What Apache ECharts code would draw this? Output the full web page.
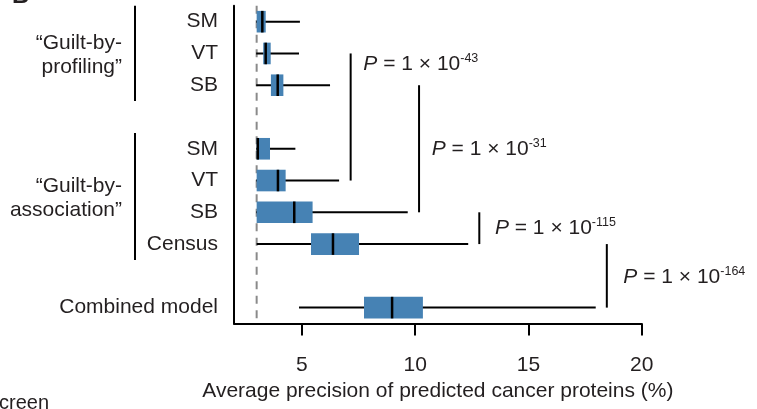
<!DOCTYPE html>
<html>
<head>
<meta charset="utf-8">
<script src="https://cdn.jsdelivr.net/npm/echarts@6/dist/echarts.min.js"></script>
<style>
  html, body { margin: 0; padding: 0; background: #fff; }
  #chart { width: 757px; height: 409px; }
</style>
</head>
<body>
<div id="chart"></div>
<script>
// ---- Data ----
const rowLabels = ['SM', 'VT', 'SB', '', 'SM', 'VT', 'SB', 'Census', '', 'Combined model'];
// box statistics per row (row index into rowLabels)
const boxRows   = [0, 1, 2, 4, 5, 6, 7, 9];
const boxMin    = [2.98, 2.98, 2.98, 2.98, 2.98, 2.98, 3.00, 4.87];
const boxQ1     = [3.00, 3.29, 3.63, 3.00, 3.00, 3.00, 5.40, 7.74];
const boxMedian = [3.25, 3.40, 3.93, 3.05, 3.94, 4.66, 6.37, 8.98];
const boxQ3     = [3.40, 3.62, 4.18, 3.59, 4.28, 5.47, 7.52, 10.34];
const boxMax    = [4.91, 4.87, 6.24, 4.71, 6.64, 9.67, 12.34, 17.97];

// random-baseline dashed line
const baselineValue = [3.0];

// significance brackets
const bracketX    = [7.15, 10.17, 12.83, 18.46];
const bracketFrom = [1, 2, 6, 7];
const bracketTo   = [5, 6, 7, 9];
const pLabelX     = [7.71, 10.73, 13.52, 19.19];
const pLabelRow   = [1.33, 4.02, 6.5, 8.03];
const pExponent   = ['-43', '-31', '-115', '-164'];

// group annotations on the left
const groupLabels = ['\u201cGuilt-by-\nprofiling\u201d', '\u201cGuilt-by-\nassociation\u201d'];
const groupFrom   = [0, 4];
const groupTo     = [2, 7];

// x axis
const xTickValues = [5, 10, 15, 20];
const xTitle = 'Average precision of predicted cancer proteins (%)';

// ---- Styling ----
const FONT = '"Liberation Sans", Arial, Helvetica, sans-serif';
const TXT = '#231f20';
const FS = 21;
const BOX_FILL = '#4682b4';

const chart = echarts.init(document.getElementById('chart'), null, { renderer: 'canvas' });

const boxData = boxRows.map((r, i) => [r, boxMin[i], boxQ1[i], boxMedian[i], boxQ3[i], boxMax[i]]);
const bracketData = bracketX.map((x, i) => [x, bracketFrom[i], bracketTo[i]]);
const groupData = groupFrom.map((f, i) => [3, f, groupTo[i]]);

function renderBox(params, api) {
  const row = api.value(0);
  const lo = api.coord([api.value(1), row]);
  const q1 = api.coord([api.value(2), row]);
  const md = api.coord([api.value(3), row]);
  const q3 = api.coord([api.value(4), row]);
  const hi = api.coord([api.value(5), row]);
  const band = api.size([0, 1])[1];
  const h = band * 0.68;
  const y = lo[1];
  return {
    type: 'group',
    children: [
      { type: 'line', shape: { x1: lo[0], y1: y, x2: hi[0], y2: y }, style: { stroke: '#000', lineWidth: 2 } },
      { type: 'rect', shape: { x: q1[0], y: y - h / 2, width: q3[0] - q1[0], height: h }, style: { fill: BOX_FILL } },
      { type: 'line', shape: { x1: md[0], y1: y - h / 2, x2: md[0], y2: y + h / 2 }, style: { stroke: '#000', lineWidth: 2.5 } }
    ]
  };
}

function renderBaseline(params, api) {
  const p = api.coord([api.value(0), 0]);
  const cs = params.coordSys;
  return {
    type: 'line',
    shape: { x1: p[0], y1: cs.y, x2: p[0], y2: cs.y + cs.height },
    style: { stroke: '#8a8a8a', lineWidth: 2, lineDash: [8, 6.5] }
  };
}

function renderBracket(params, api) {
  const i = params.dataIndex;
  const x = api.value(0);
  const a = api.coord([x, api.value(1)]);
  const b = api.coord([x, api.value(2)]);
  const band = api.size([0, 1])[1];
  const t0 = api.coord([pLabelX[i], 0]);
  const ty = t0[1] + pLabelRow[i] * band;
  return {
    type: 'group',
    children: [
      { type: 'line', shape: { x1: a[0], y1: a[1], x2: b[0], y2: b[1] }, style: { stroke: '#000', lineWidth: 2 } },
      {
        type: 'text',
        style: {
          x: t0[0], y: ty,
          text: '{p|P} = 1 \u00d7 10{s|' + pExponent[i] + '}',
          align: 'left', verticalAlign: 'middle',
          fontSize: FS, fontFamily: FONT, fill: TXT, lineHeight: 24,
          rich: {
            p: { fontStyle: 'italic', fontSize: FS, fontFamily: FONT, fill: TXT, lineHeight: 24 },
            s: { fontSize: 12.5, fontFamily: FONT, fill: TXT, lineHeight: 11, verticalAlign: 'top' }
          }
        }
      }
    ]
  };
}

function renderGroup(params, api) {
  const i = params.dataIndex;
  const cs = params.coordSys;
  const band = api.size([0, 1])[1];
  const a = api.coord([api.value(0), api.value(1)]);
  const b = api.coord([api.value(0), api.value(2)]);
  const lx = cs.x - 99;
  return {
    type: 'group',
    children: [
      { type: 'line', shape: { x1: lx, y1: a[1] - band / 2, x2: lx, y2: b[1] + band / 2 }, style: { stroke: '#000', lineWidth: 2 } },
      {
        type: 'text',
        style: {
          x: cs.x - 112, y: (a[1] + b[1]) / 2 + 1.5,
          text: groupLabels[i],
          align: 'right', verticalAlign: 'middle',
          fontSize: FS, fontFamily: FONT, fill: TXT, lineHeight: 24
        }
      }
    ]
  };
}

const option = {
  animation: false,
  backgroundColor: '#fff',
  textStyle: { fontFamily: FONT, color: TXT },
  grid: { left: 234, right: 115.3, top: 5.8, bottom: 85.5, containLabel: false, outerBoundsMode: 'none' },
  xAxis: {
    type: 'value',
    min: 2, max: 20,
    splitLine: { show: false },
    axisLine: { show: true, lineStyle: { color: '#000', width: 2 } },
    axisTick: { show: true, length: 12, lineStyle: { color: '#000', width: 2 }, customValues: xTickValues },
    axisLabel: { show: true, margin: 31, fontSize: FS, fontFamily: FONT, color: TXT, customValues: xTickValues },
    name: xTitle,
    nameLocation: 'middle',
    nameGap: 57,
    nameTextStyle: { fontSize: FS, fontFamily: FONT, color: TXT }
  },
  yAxis: {
    type: 'category',
    inverse: true,
    data: rowLabels,
    axisLine: { show: true, onZero: false, lineStyle: { color: '#000', width: 2 } },
    axisTick: { show: false },
    splitLine: { show: false },
    axisLabel: { show: true, margin: 16, fontSize: FS, fontFamily: FONT, color: TXT, interval: 0, formatter: (v, i) => rowLabels[i] }
  },
  graphic: [
    { type: 'text', left: 12, top: -16, style: { text: 'B', fontSize: 24, fontWeight: 'bold', fontFamily: FONT, fill: TXT } },
    { type: 'text', left: -1, top: 393, style: { text: 'creen', fontSize: 20, fontFamily: FONT, fill: TXT } }
  ],
  series: [
    { type: 'custom', name: 'baseline', coordinateSystem: 'cartesian2d', renderItem: renderBaseline, data: baselineValue.map(v => [v, 0]), encode: { x: 0, y: 1 }, z: 1, silent: true },
    { type: 'custom', name: 'boxes', coordinateSystem: 'cartesian2d', renderItem: renderBox, data: boxData, encode: { x: [1, 2, 3, 4, 5], y: 0 }, z: 2, silent: true },
    { type: 'custom', name: 'brackets', coordinateSystem: 'cartesian2d', renderItem: renderBracket, data: bracketData, encode: { x: 0, y: [1, 2] }, z: 3, silent: true, clip: false },
    { type: 'custom', name: 'groups', coordinateSystem: 'cartesian2d', renderItem: renderGroup, data: groupData, encode: { x: 0, y: [1, 2] }, z: 3, silent: true, clip: false }
  ]
};

chart.setOption(option);
</script>
</body>
</html>
